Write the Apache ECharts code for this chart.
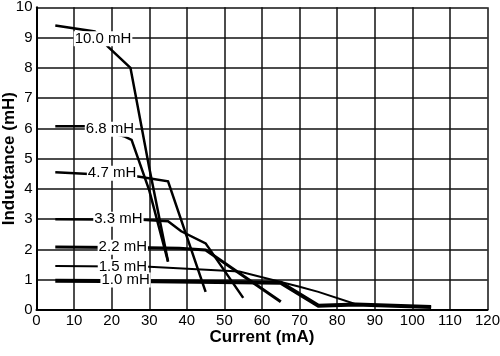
<!DOCTYPE html>
<html>
<head>
<meta charset="utf-8">
<script src="https://cdn.jsdelivr.net/npm/echarts@6/dist/echarts.min.js"></script>
<style>
html,body{margin:0;padding:0;background:#fff;}
#c{width:500px;height:356px;}
</style>
</head>
<body>
<div id="c"></div>
<script>
// Current (mA) and inductance (mH) for each curve
const cur100 = [5, 15.5, 19, 25, 30, 35];
const ind100 = [9.4, 9.2, 8.7, 8.0, 4.7, 1.6];
const cur68 = [5, 13, 23.5, 25.3, 30, 35];
const ind68 = [6.07, 6.07, 5.73, 5.62, 3.95, 1.6];
const cur47 = [5, 27, 35, 45];
const ind47 = [4.55, 4.41, 4.25, 0.6];
const cur33 = [5, 28, 35, 38.5, 45, 55];
const ind33 = [3.0, 2.98, 2.93, 2.6, 2.2, 0.4];
const cur22 = [5, 30, 38, 45, 65];
const ind22 = [2.08, 2.06, 2.04, 1.98, 0.27];
const cur15 = [5, 30, 54, 70, 75, 85, 105];
const ind15 = [1.45, 1.43, 1.27, 0.77, 0.6, 0.19, 0.1];
const cur10 = [5, 31, 65, 75, 85, 105];
const ind10 = [0.97, 0.95, 0.9, 0.14, 0.18, 0.1];

// curve labels and their anchor (current, inductance)
const curveNames = ["10.0 mH", "6.8 mH", "4.7 mH", "3.3 mH", "2.2 mH", "1.5 mH", "1.0 mH"];
const labelCur = [17.7, 19.55, 20.1, 21.8, 22.96, 23.0, 23.7];
const labelInd = [8.96, 5.97, 4.52, 3.0, 2.07, 1.43, 0.99];

// axis ticks
const xMin = 0, xMax = 120, xStep = 10;
const yMin = 0, yMax = 10, yStep = 1;

const curves = [
  [cur100, ind100, 2.5],
  [cur68, ind68, 2.5],
  [cur47, ind47, 2.5],
  [cur33, ind33, 2.5],
  [cur22, ind22, 3],
  [cur15, ind15, 2],
  [cur10, ind10, 4]
];

const FONT = '"Liberation Sans", Arial, Helvetica, sans-serif';

const series = curves.map((c, i) => ({
  type: 'line',
  name: curveNames[i],
  data: c[0].map((x, k) => [x, c[1][k]]),
  showSymbol: false,
  symbol: 'none',
  lineStyle: { color: '#000', width: c[2], join: 'miter', cap: 'butt' },
  z: 3,
  markPoint: {
    symbol: 'rect',
    symbolSize: 1,
    itemStyle: { color: 'rgba(0,0,0,0)' },
    z: 10,
    label: {
      show: true,
      position: 'inside',
      color: '#000',
      fontFamily: FONT,
      fontSize: 15,
      backgroundColor: '#fff',
      padding: [0, 1],
      formatter: () => curveNames[i]
    },
    data: [{ coord: [labelCur[i], labelInd[i]] }]
  }
}));

const chart = echarts.init(document.getElementById('c'), null, { renderer: 'canvas' });
chart.setOption({
  animation: false,
  backgroundColor: '#fff',
  grid: { left: 36.5, right: 12.5, top: 7.3, bottom: 46, outerBoundsMode: 'none', containLabel: false },
  xAxis: {
    type: 'value', min: xMin, max: xMax, interval: xStep,
    name: 'Current (mA)', nameLocation: 'middle', nameGap: 19, nameMoveOverlap: false,
    nameTextStyle: { fontFamily: FONT, fontSize: 17, fontWeight: 'bold', color: '#000' },
    axisLine: { show: true, lineStyle: { color: '#000', width: 2 } },
    axisTick: { show: false },
    axisLabel: { fontFamily: FONT, fontSize: 15, color: '#000', margin: 3 },
    splitLine: { show: true, lineStyle: { color: '#111', width: 1.5 } }
  },
  yAxis: {
    type: 'value', min: yMin, max: yMax, interval: yStep,
    name: 'Inductance (mH)', nameLocation: 'middle', nameGap: 19, nameRotate: 90, nameMoveOverlap: false,
    nameTextStyle: { fontFamily: FONT, fontSize: 17, fontWeight: 'bold', color: '#000' },
    axisLine: { show: true, lineStyle: { color: '#000', width: 2 } },
    axisTick: { show: false },
    axisLabel: { fontFamily: FONT, fontSize: 15, color: '#000', margin: 4 },
    splitLine: { show: true, lineStyle: { color: '#111', width: 1.5 } }
  },
  series: series
});
</script>
</body>
</html>
